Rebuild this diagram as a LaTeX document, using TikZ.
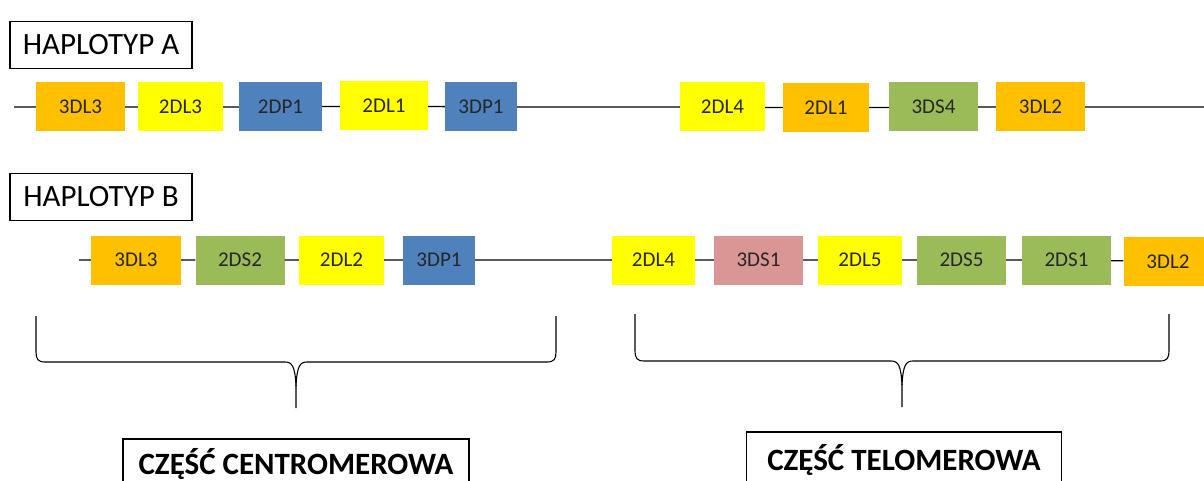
\documentclass[tikz,border=0pt]{standalone}
\usepackage{fontspec}
\setmainfont{Carlito}
\usetikzlibrary{positioning}

\definecolor{kirorange}{HTML}{FFC000}
\definecolor{kiryellow}{HTML}{FFFF00}
\definecolor{kirblue}{HTML}{4F81BD}
\definecolor{kirgreen}{HTML}{9BBB59}
\definecolor{kirpink}{HTML}{D99694}

\begin{document}
\begin{tikzpicture}[
        x=1pt, y=-1pt,
        gene/.style 2 args={rectangle, inner sep=0pt, minimum width=#1,
                    minimum height=49pt, fill=#2, text=black!85,
                    font=\fontsize{21}{25}\selectfont},
        hap/.style={rectangle, draw=black, line width=1.2pt, inner sep=0pt,
                    minimum width=182pt, minimum height=47pt,
                    font=\fontsize{31}{37}\selectfont},
        part/.style={rectangle, draw=black, line width=1.2pt, inner sep=0pt,
                    font=\fontsize{31}{37}\selectfont\bfseries},
        link/.style={line width=1.3pt},
        brace/.style={line width=1.1pt},
    ]
    \clip (0,0) rectangle (1204,481);

    % haplotyp A
    \node[hap] (hapA) at (101,45) {HAPLOTYP A};
    \coordinate (aL) at (14,107);
    \coordinate (aR) at (1210,107);
    \node[gene={89pt}{kirorange}] (a1) at (80.5,107) {3DL3};
    \node[gene={85pt}{kiryellow}] (a2) at (180.5,107) {2DL3};
    \node[gene={83pt}{kirblue}] (a3) at (280.5,107) {2DP1};
    \node[gene={88pt}{kiryellow}] (a4) at (384,106) {2DL1};
    \node[gene={72pt}{kirblue}] (a5) at (481,107) {3DP1};
    \node[gene={85pt}{kiryellow}] (a6) at (722.5,107) {2DL4};
    \node[gene={86pt}{kirorange}] (a7) at (826,108) {2DL1};
    \node[gene={89pt}{kirgreen}] (a8) at (933.5,107) {3DS4};
    \node[gene={89pt}{kirorange}] (a9) at (1040.5,107) {3DL2};
    \draw[link] (aL) -- (a1) -- (a2) -- (a3) -- (a4) -- (a5) -- (a6)
        -- (a7) -- (a8) -- (a9) -- (aR);

    % haplotyp B
    \node[hap] (hapB) at (101,197) {HAPLOTYP B};
    \coordinate (bL) at (79,260);
    \node[gene={90pt}{kirorange}] (b1) at (136,260) {3DL3};
    \node[gene={89pt}{kirgreen}] (b2) at (240,260) {2DS2};
    \node[gene={85pt}{kiryellow}] (b3) at (341.5,260) {2DL2};
    \node[gene={72pt}{kirblue}] (b4) at (439,260) {3DP1};
    \node[gene={83pt}{kiryellow}] (b5) at (653.5,260) {2DL4};
    \node[gene={89pt}{kirpink}] (b6) at (758.5,260) {3DS1};
    \node[gene={84pt}{kiryellow}] (b7) at (860,260) {2DL5};
    \node[gene={89pt}{kirgreen}] (b8) at (961.5,260) {2DS5};
    \node[gene={89pt}{kirgreen}] (b9) at (1066.5,260) {2DS1};
    \node[gene={89pt}{kirorange}] (b10) at (1168,261.5) {3DL2};
    \draw[link] (bL) -- (b1) -- (b2) -- (b3) -- (b4) -- (b5) -- (b6)
        -- (b7) -- (b8) -- (b9) -- (b10);

    % klamry
    \draw[brace] (36,316) -- (36,352) .. controls (36,359) and (38,362) .. (45,362)
        -- (285,362) .. controls (292,362) and (295,366) .. (296,386) -- (296,408);
    \draw[brace] (296,386) .. controls (297,366) and (300,362) .. (307,362)
        -- (547,362) .. controls (554,362) and (556,359) .. (556,352) -- (556,316);
    \draw[brace] (635,314) -- (635,351) .. controls (635,358) and (637,361) .. (644,361)
        -- (891,361) .. controls (898,361) and (901,365) .. (902,385) -- (902,407);
    \draw[brace] (902,385) .. controls (903,365) and (906,361) .. (913,361)
        -- (1160,361) .. controls (1167,361) and (1169,358) .. (1169,351) -- (1169,314);

    % podpisy
    \node[part, minimum width=346pt, minimum height=50pt] (cen) at (296,464) {CZĘŚĆ CENTROMEROWA};
    \node[part, minimum width=315pt, minimum height=56pt] (tel) at (904,460) {CZĘŚĆ TELOMEROWA};
\end{tikzpicture}
\end{document}
